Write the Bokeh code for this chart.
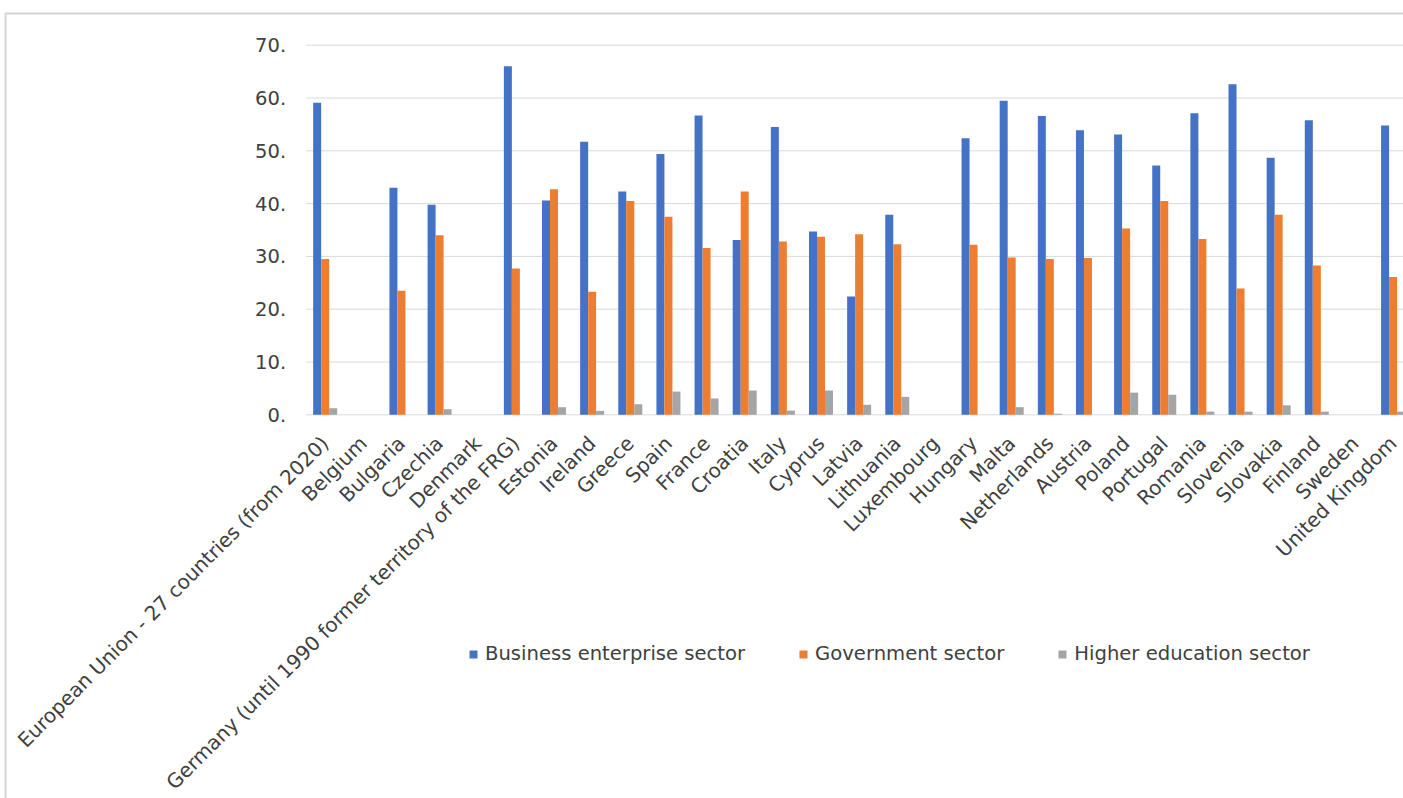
import numpy as np
from math import pi
from bokeh.plotting import figure
from bokeh.models import ColumnDataSource, Range1d, Legend, LegendItem, BoxAnnotation
from bokeh.core.properties import value
from bokeh.transform import dodge
from bokeh.embed import file_html
from bokeh.resources import INLINE

nan = float("nan")

countries = [
    "European Union - 27 countries (from 2020)", "Belgium", "Bulgaria", "Czechia", "Denmark",
    "Germany (until 1990 former territory of the FRG)", "Estonia", "Ireland", "Greece", "Spain",
    "France", "Croatia", "Italy", "Cyprus", "Latvia", "Lithuania", "Luxembourg", "Hungary",
    "Malta", "Netherlands", "Austria", "Poland", "Portugal", "Romania", "Slovenia", "Slovakia",
    "Finland", "Sweden", "United Kingdom",
]
business = [59.1, nan, 43.0, 39.8, nan, 66.0, 40.6, 51.7, 42.3, 49.4,
            56.7, 33.1, 54.5, 34.7, 22.4, 37.9, nan, 52.4,
            59.5, 56.6, 53.9, 53.1, 47.2, 57.1, 62.6, 48.7,
            55.8, nan, 54.8]
government = [29.5, nan, 23.5, 34.0, nan, 27.7, 42.7, 23.3, 40.5, 37.5,
              31.6, 42.3, 32.8, 33.7, 34.2, 32.3, nan, 32.2,
              29.8, 29.5, 29.7, 35.3, 40.5, 33.3, 23.9, 37.9,
              28.3, nan, 26.1]
higher_education = [1.25, nan, nan, 1.06, nan, nan, 1.44, 0.75, 2.0, 4.4,
                    3.1, 4.6, 0.8, 4.6, 1.9, 3.4, nan, nan,
                    1.44, 0.2, nan, 4.2, 3.8, 0.6, 0.6, 1.8,
                    0.6, nan, 0.6]
series_names = ["Business enterprise sector", "Government sector", "Higher education sector"]
series_colors = ["#4472C4", "#ED7D31", "#A5A5A5"]
y_ticks = [0, 10, 20, 30, 40, 50, 60, 70]
y_tick_labels = ["0.", "10.", "20.", "30.", "40.", "50.", "60.", "70."]

TEXT = "#404040"
FONT = "DejaVu Sans"
W, H = 1403, 798
# layout: category slot width and value scale in pixels
slot_px, unit_px = 38.14, 5.28
x0_px, y0_px = 305.6, 414.3
x_start = -x0_px / slot_px
x_end = (W - x0_px) / slot_px
y_end = y0_px / unit_px
y_start = -(H - y0_px) / unit_px

x_pos = list(np.arange(len(countries)) + 0.5)
source = ColumnDataSource(dict(x=x_pos, country=countries, business=business,
                               government=government, higher=higher_education,
                               zero=[0.0] * len(countries)))

p = figure(width=W, height=H, output_backend="svg", toolbar_location=None,
           x_range=Range1d(x_start, x_end), y_range=Range1d(y_start, y_end),
           x_axis_location=None, y_axis_location=None,
           min_border=0, min_border_left=0, min_border_right=0,
           min_border_top=0, min_border_bottom=0)
p.outline_line_color = None
p.background_fill_color = "white"
p.border_fill_color = "white"
p.grid.visible = False

# gridlines at the value ticks, over the category area
grid_src = ColumnDataSource(dict(y=y_ticks, lab=y_tick_labels,
                                 gx0=[0.0] * len(y_ticks), gx1=[x_end] * len(y_ticks)))
p.segment(x0="gx0", x1="gx1", y0="y", y1="y", source=grid_src,
          line_color="#d9d9d9", line_width=1)

bw = 0.2098
renderers = []
for col, off, color in zip(["business", "government", "higher"], [-bw, 0, bw], series_colors):
    r = p.vbar(x=dodge("x", off, range=p.x_range), top=col, width=bw, bottom=0,
               source=source, fill_color=color, line_color=None)
    renderers.append(r)

# value tick labels
p.text(x="gx0", y="y", text="lab", source=grid_src, x_offset=-20,
       text_align="right", text_baseline="middle", text_color=TEXT,
       text_font=value(FONT), text_font_size="19.5px")

# category labels, rotated 45 degrees
p.text(x="x", y="zero", text="country", source=source, angle=pi / 4,
       x_offset=0, y_offset=25, text_align="right", text_baseline="alphabetic",
       text_color=TEXT, text_font=value(FONT), text_font_size="20px")

legend = Legend(items=[LegendItem(label=n, renderers=[r]) for n, r in zip(series_names, renderers)],
                location=(468, 133), orientation="horizontal", spacing=53,
                glyph_width=10, glyph_height=10, label_standoff=7, padding=0, margin=0,
                border_line_color=None, background_fill_alpha=0,
                label_text_font=FONT, label_text_font_size="19.6px", label_text_color=TEXT)
p.add_layout(legend)

border = BoxAnnotation(left=5, right=W + 50, top=13, bottom=H + 50,
                       left_units="canvas", right_units="canvas",
                       top_units="canvas", bottom_units="canvas",
                       fill_alpha=0, line_color="#d4d4d4", line_alpha=1.0, line_width=2)
p.add_layout(border)

open("out.html", "w").write(file_html(p, INLINE))
